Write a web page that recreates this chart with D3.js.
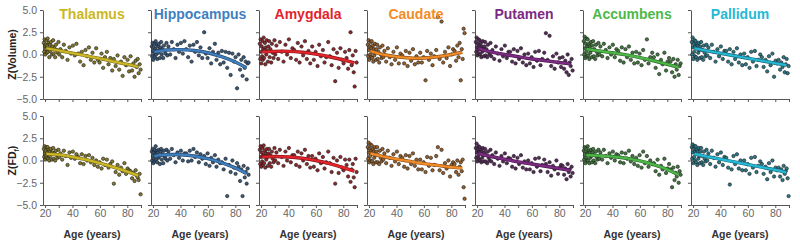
<!DOCTYPE html>
<html>
<head>
<meta charset="utf-8">
<script src="https://cdn.jsdelivr.net/npm/d3@7"></script>
<style>
  body { margin: 0; background: #fff; }
  svg { font-family: "Liberation Sans", Arial, sans-serif; }
  .axis path, .axis line { stroke: #555; }
  .axis text { fill: #666; font-size: 10.5px; }
</style>
</head>
<body>
<svg id="chart" width="800" height="241"></svg>
<script>
// regions & colours
const regions = ['Thalamus', 'Hippocampus', 'Amygdala', 'Caudate', 'Putamen', 'Accumbens', 'Pallidum']
const regionColors = ['#cbb726', '#3f7fbf', '#e3242b', '#f28c28', '#7d2a84', '#4db848', '#26b8d4']

// subject ages (same subjects in every panel)
const ages = [
  19.1, 19.4, 19.7, 20.0, 20.2, 20.5, 20.8, 21.1, 21.3, 21.6,
  21.9, 22.2, 22.5, 22.8, 23.1, 23.5, 23.8, 24.2, 24.6, 25.0,
  25.4, 25.9, 26.3, 26.8, 27.4, 27.9, 28.5, 29.1, 29.8, 30.4,
  31.2, 32.5, 33.7, 35.1, 36.4, 37.8, 39.0, 40.3, 41.7, 42.9,
  44.2, 45.6, 46.8, 48.1, 49.5, 50.7, 52.0, 53.4, 54.6, 55.9,
  57.3, 58.5, 59.8, 61.2, 62.4, 63.7, 65.1, 66.3, 67.6, 69.0,
  70.2, 71.5, 72.9, 74.1, 75.4, 76.6, 77.9, 79.1, 80.2, 81.3,
  82.4, 83.5, 84.4, 85.3, 86.1, 86.9, 87.6, 88.3, 89.0, 89.7
]

// Z(Volume) per region
const thalamusVol = [
  1.3,0.3,1.7,0.9,0.0,1.1,0.6,1.6,0.2,1.0, 1.8,0.3,0.6,1.3,-0.3,1.1,0.4,1.4,0.7,0.0,
  0.9,1.6,0.1,0.7,-0.3,1.1,0.5,0.2,1.4,0.0, 0.6,-0.3,1.1,0.4,-0.6,0.8,0.1,1.0,-0.1,1.2,
  0.1,-0.8,0.3,-1.2,0.5,-0.2,0.8,-0.6,0.2,-0.9, 0.7,-0.6,-0.9,0.1,-1.5,-0.3,0.3,-1.1,-0.4,-1.8,
  -0.5,-1.3,-0.1,-1.7,-0.8,-2.4,-0.3,-1.2,-0.6,-1.9, -0.2,-1.8,-1.0,-2.5,-0.7,-1.4,-0.5,-2.1,-1.1,-1.7]
const hippocampusVol = [
  0.9,-0.2,1.3,0.4,-0.6,0.8,0.1,1.2,-0.3,0.6, 1.5,0.0,0.4,1.1,-0.5,0.9,0.2,1.2,0.5,-0.4,
  0.8,1.4,0.0,0.6,-0.4,1.0,0.4,0.1,1.3,-0.1, 0.9,0.0,1.4,0.6,-0.4,1.1,0.3,1.3,0.1,1.5,
  0.6,-0.3,1.0,-0.8,1.1,0.3,1.4,-0.1,0.8,-0.4, 2.5,0.1,-0.4,0.7,-1.0,0.3,1.2,-0.6,0.2,-1.1,
  0.4,-0.9,0.3,-1.5,0.2,-2.3,0.1,-0.8,-0.3,-3.8, 0.0,-1.7,-0.6,-2.4,-0.3,-1.5,-0.8,-2.8,-1.0,-0.9]
const amygdalaVol = [
  1.2,-0.5,1.7,0.3,-1.0,0.9,-0.2,1.5,-0.6,0.6, 1.9,-0.4,0.5,1.3,-1.1,0.8,0.0,1.6,0.4,-0.8,
  0.9,1.5,-0.3,0.6,-0.9,1.2,0.2,-0.4,1.6,0.0, 1.0,-0.5,1.4,0.3,-0.8,1.1,0.0,1.7,-0.4,0.7,
  0.5,-0.6,1.3,-0.9,0.9,-0.1,1.5,-0.5,0.4,-1.0, 0.9,-0.6,0.3,-1.3,1.1,-0.2,0.5,-0.9,-0.3,1.4,
  -0.2,-1.2,0.6,-3.0,0.2,-1.5,0.7,-0.6,-1.0,0.3, -0.4,-1.6,0.5,2.5,-1.2,-0.1,-2.0,-3.6,0.4,-0.9]
const caudateVol = [
  1.1,-0.2,1.6,0.5,-0.6,0.9,0.0,1.4,-0.3,0.7, 1.5,-0.4,0.3,1.0,-0.8,0.6,-0.1,1.2,0.2,-0.6,
  0.6,1.1,-0.5,0.3,-0.9,0.8,0.0,-0.4,1.0,-0.3, 0.4,-0.8,0.7,-0.3,-1.1,0.3,-0.6,0.8,-1.0,0.1,
  -0.1,-1.0,0.4,-1.3,0.2,-0.7,0.6,-1.1,-0.2,-0.9, 0.2,-0.9,-0.3,-2.9,0.4,-0.6,0.1,-1.2,-0.2,0.5,
  4.2,-0.5,3.7,-0.9,0.3,-0.4,0.8,-1.3,0.0,0.6, 0.4,-0.7,1.0,-0.3,1.3,-2.9,0.6,-0.5,2.9,2.4]
const putamenVol = [
  1.4,0.3,1.9,0.8,-0.1,1.2,0.5,1.7,0.1,1.0, 1.6,0.0,0.7,1.3,-0.3,0.9,0.3,1.5,0.6,-0.2,
  0.9,1.4,-0.1,0.6,-0.3,1.1,0.3,0.0,1.3,-0.2, 0.5,-0.5,0.9,0.1,-0.7,0.6,-0.2,1.0,-0.4,0.3,
  0.3,-0.8,0.6,-1.0,0.4,-0.5,0.7,-0.9,0.0,-1.2, 0.1,-1.0,-0.3,-1.4,0.3,-0.7,0.4,-1.2,-0.5,0.2,
  2.4,-0.6,2.1,-1.3,-0.2,-1.6,0.1,-0.9,-0.4,-1.4, -0.3,-1.6,-0.7,-2.0,0.0,-2.3,-0.9,-1.3,-0.5,-1.8]
const accumbensVol = [
  1.5,0.0,2.0,0.7,-0.4,1.2,0.3,1.8,-0.2,0.9, 1.7,-0.1,0.6,1.2,-0.5,0.9,0.2,1.4,0.5,-0.3,
  1.0,1.5,-0.2,0.6,-0.5,1.1,0.3,-0.1,1.3,0.0, 0.9,-0.2,1.2,0.5,-0.4,0.8,0.0,1.1,-0.3,0.6,
  0.4,-0.7,0.8,-0.9,0.6,-0.3,0.9,-0.6,0.2,-1.0, 0.3,-0.9,0.1,-1.2,0.5,-0.6,1.7,-1.0,-0.3,0.2,
  -0.3,-1.5,0.0,-2.2,-0.6,-1.1,0.2,-1.8,-0.8,-0.4, -0.8,-2.0,-0.5,-2.5,-1.1,-1.7,-0.6,-2.3,-1.3,-1.0]
const pallidumVol = [
  1.4,0.0,1.9,0.8,-0.5,1.2,0.3,1.6,-0.2,0.9, 1.5,-0.3,0.7,1.2,-0.6,1.0,0.2,1.3,0.5,-0.4,
  0.9,1.4,-0.3,0.5,-0.6,1.0,0.2,-0.2,1.1,-0.1, 0.8,-0.4,1.1,0.3,-0.8,0.6,-0.2,0.9,-0.5,0.4,
  0.4,-0.8,0.6,-1.1,0.3,-0.5,0.7,-0.9,0.0,-1.2, 0.1,-1.1,-0.3,-1.5,0.3,-0.8,0.4,-1.3,-0.6,0.0,
  -0.3,-1.4,-0.6,-1.9,-0.2,-1.2,0.1,-2.5,-0.7,-1.0, -0.6,-1.7,-0.9,-1.4,-0.3,-2.0,-1.1,-0.5,-2.1,-1.3]

// Z(FD_f) per region
const thalamusFd = [
  1.3,0.4,1.6,0.8,0.1,1.1,0.5,1.5,0.3,0.9, 1.5,0.2,0.7,1.2,0.0,1.0,0.5,1.3,0.8,0.1,
  0.9,1.4,0.2,0.8,0.0,1.1,0.6,0.3,1.2,0.4, 0.8,0.1,1.1,0.5,-0.5,0.9,0.3,1.0,0.2,0.7,
  0.4,-0.3,0.7,-0.4,0.5,0.0,0.6,-0.2,0.3,-0.5, 0.0,-0.7,-0.2,-0.9,0.2,-0.5,0.1,-0.8,-0.4,-0.1,
  -2.6,-1.3,-0.5,-1.6,-0.8,-1.2,-0.3,-1.5,-0.9,-1.1, -1.2,-2.0,-1.4,-2.3,-1.1,-1.7,-1.9,-2.2,-1.5,-3.8]
const hippocampusFd = [
  1.0,0.0,1.3,0.5,-0.3,0.9,0.2,1.2,-0.1,0.7, 1.6,0.1,0.6,1.1,-0.2,0.9,0.3,1.2,0.5,-0.4,
  1.0,1.3,0.1,0.7,-0.3,1.1,0.4,0.2,1.2,0.0, 1.0,0.2,1.3,0.6,-0.2,0.9,0.3,1.1,0.0,0.8,
  0.8,-0.1,1.1,0.0,1.3,0.4,0.9,-0.2,0.7,0.2, 0.5,-0.4,0.8,-0.6,0.3,-0.2,0.6,-0.7,0.1,-0.3,
  -0.2,-1.0,0.2,-4.0,-0.5,-1.3,0.0,-0.8,-1.5,-0.3, -0.7,-2.3,-1.0,-4.0,-0.6,-1.9,-1.3,-2.6,-0.9,-1.6]
const amygdalaFd = [
  1.2,-0.4,1.6,0.4,-0.7,0.9,-0.1,1.4,-0.5,0.6, 1.7,-0.3,0.5,1.1,-0.8,0.8,0.1,1.3,0.4,-0.6,
  0.8,1.3,-0.3,0.6,-0.7,1.0,0.2,-0.2,1.4,0.0, 0.9,-0.3,1.2,0.4,-0.6,1.0,0.0,1.4,-0.2,0.6,
  0.6,-0.5,1.0,-0.7,0.8,0.0,1.2,-0.4,0.5,-0.8, 0.5,-0.7,0.2,-1.1,0.8,-0.3,0.4,-0.9,-0.2,1.0,
  -0.3,-1.3,0.3,-2.6,0.0,-1.4,0.4,-0.8,-1.1,0.1, -0.5,-1.8,0.1,-2.4,-1.0,-0.4,-1.9,-3.0,0.2,-1.3]
const caudateFd = [
  1.5,0.2,2.0,0.9,-0.2,1.3,0.5,1.8,0.0,1.1, 1.7,-0.1,0.8,1.3,-0.4,1.0,0.3,1.5,0.6,-0.2,
  1.0,1.5,-0.2,0.6,-0.4,1.1,0.3,-0.1,1.3,0.1, 0.8,-0.3,1.1,0.3,-0.6,0.7,-0.1,1.0,-0.4,0.5,
  0.3,-0.7,0.6,-0.9,0.5,-0.4,0.8,-0.6,0.1,-1.0, 0.1,-1.0,-0.2,-1.3,0.4,-0.6,0.3,-1.1,-0.5,0.5,
  1.5,-1.1,1.2,-1.4,-0.3,-0.9,0.0,-1.8,-0.5,-0.2, -0.4,-1.3,0.0,-1.6,-0.7,-0.2,-1.2,0.1,-3.0,-4.3]
const putamenFd = [
  1.4,0.3,1.9,0.9,-0.1,1.2,0.5,1.6,0.2,1.0, 1.5,0.0,0.8,1.2,-0.2,1.0,0.3,1.4,0.6,-0.1,
  0.9,1.3,-0.1,0.6,-0.3,1.0,0.3,0.0,1.2,-0.1, 0.6,-0.4,0.9,0.2,-0.6,0.5,-0.1,0.8,-0.3,0.3,
  0.2,-0.7,0.5,-0.9,0.3,-0.4,0.6,-0.8,-0.1,-1.0, 0.0,-1.0,-0.3,-1.3,0.2,-0.7,0.3,-1.2,-0.5,0.1,
  -0.4,-1.3,-0.2,-1.7,-0.6,-1.0,0.0,-1.5,-0.8,-0.5, -0.6,-1.6,-0.9,-2.1,-0.4,-1.3,-1.0,-1.8,-0.7,-1.4]
const accumbensFd = [
  1.1,0.1,1.5,0.6,-0.3,1.0,0.3,1.4,0.0,0.8, 1.6,0.0,0.7,1.1,-0.3,0.9,0.3,1.2,0.5,-0.2,
  0.9,1.3,0.0,0.6,-0.3,1.0,0.4,0.1,1.2,0.2, 0.9,0.1,1.2,0.5,-0.3,0.8,0.3,1.0,0.0,0.7,
  0.6,-0.2,0.9,-0.3,0.8,0.2,1.1,-0.1,0.5,-0.4, 0.3,-0.6,0.6,-0.8,1.0,-0.3,0.5,-0.7,0.0,-0.4,
  -0.3,-1.2,0.1,-1.6,-0.6,-1.0,0.2,-1.4,-0.9,-0.4, -1.0,-3.0,-0.8,-2.2,-1.4,-1.8,-0.7,-2.5,-1.2,-1.6]
const pallidumFd = [
  1.5,0.2,1.8,0.9,-0.3,1.3,0.4,1.6,0.0,1.0, 1.6,-0.2,0.8,1.2,-0.5,1.0,0.2,1.4,0.5,-0.3,
  1.0,1.4,-0.2,0.5,-0.5,1.0,0.2,-0.1,1.2,0.0, 0.8,-0.4,1.1,0.3,-0.7,0.7,-0.2,0.9,-0.5,0.4,
  0.3,-0.8,-2.7,-1.0,0.5,-0.4,0.7,-0.9,0.0,-1.1, 0.0,-1.1,-0.4,-1.5,0.3,-0.8,0.4,-1.3,-0.6,-0.1,
  -0.4,-1.5,-0.7,-2.1,-0.3,-1.3,0.0,-1.8,-0.8,-1.1, -0.8,-1.8,-1.0,-2.2,-0.6,-1.5,-1.2,-0.9,-2.0,-4.0]

// fitted age curves, sampled at these ages
const fitAges = [21, 30, 40, 50, 60, 70, 80, 88]
const thalamusVolFit = [0.7, 0.45, 0.15, -0.15, -0.45, -0.8, -1.1, -1.4]
const hippocampusVolFit = [0.3, 0.5, 0.55, 0.45, 0.2, -0.25, -0.85, -1.5]
const amygdalaVolFit = [0.3, 0.35, 0.35, 0.25, 0.05, -0.25, -0.6, -0.95]
const caudateVolFit = [0.4, 0.0, -0.25, -0.4, -0.4, -0.25, 0.0, 0.25]
const putamenVolFit = [0.7, 0.3, 0.0, -0.25, -0.5, -0.7, -0.9, -1.05]
const accumbensVolFit = [0.6, 0.4, 0.2, -0.05, -0.35, -0.7, -1.1, -1.45]
const pallidumVolFit = [0.7, 0.42, 0.14, -0.14, -0.42, -0.7, -0.98, -1.2]
const thalamusFdFit = [0.75, 0.65, 0.4, 0.1, -0.3, -0.75, -1.25, -1.7]
const hippocampusFdFit = [0.5, 0.65, 0.65, 0.5, 0.2, -0.25, -0.85, -1.45]
const amygdalaFdFit = [0.4, 0.45, 0.4, 0.25, 0.0, -0.35, -0.8, -1.2]
const caudateFdFit = [0.8, 0.45, 0.15, -0.1, -0.35, -0.55, -0.75, -0.85]
const putamenFdFit = [0.8, 0.45, 0.15, -0.15, -0.4, -0.65, -0.9, -1.1]
const accumbensFdFit = [0.6, 0.55, 0.45, 0.25, -0.05, -0.45, -1.0, -1.6]
const pallidumFdFit = [0.75, 0.45, 0.15, -0.15, -0.45, -0.75, -1.05, -1.35]

// tick values
const yTicks = [-5, -2.5, 0, 2.5, 5]
const xTicks = [20, 30, 40, 50, 60, 70, 80, 90]
const xLabelled = [20, 40, 60, 80]

const rows = [
  { label: 'Z(Volume)', points: [thalamusVol, hippocampusVol, amygdalaVol, caudateVol, putamenVol, accumbensVol, pallidumVol],
    fits: [thalamusVolFit, hippocampusVolFit, amygdalaVolFit, caudateVolFit, putamenVolFit, accumbensVolFit, pallidumVolFit] },
  { label: 'Z(FD', points: [thalamusFd, hippocampusFd, amygdalaFd, caudateFd, putamenFd, accumbensFd, pallidumFd],
    fits: [thalamusFdFit, hippocampusFdFit, amygdalaFdFit, caudateFdFit, putamenFdFit, accumbensFdFit, pallidumFdFit] }
]

// layout
const panelLeft = 43, panelStep = 108, panelWidth = 98
const rowTops = [10, 116], rowHeight = 89

const svg = d3.select('#chart')
const xScale = d3.scaleLinear([18.5, 90], [0, panelWidth])
const yScale = d3.scaleLinear([-5, 5], [rowHeight, 0])

const fitLine = d3.line()
  .x(d => xScale(d[0])).y(d => yScale(d[1]))
  .curve(d3.curveNatural)

rows.forEach((row, r) => {
  regions.forEach((region, c) => {
    const color = regionColors[c]
    const g = svg.append('g')
      .attr('transform', `translate(${panelLeft + c * panelStep},${rowTops[r]})`)

    // axes
    const yAxis = d3.axisLeft(yScale).tickValues(yTicks).tickSize(3).tickSizeOuter(0)
      .tickFormat(c === 0 ? d3.format('.1f') : '')
    g.append('g').attr('class', 'axis').call(yAxis)

    const xAxis = d3.axisBottom(xScale).tickValues(xTicks).tickSize(3).tickSizeOuter(0)
      .tickPadding(2)
      .tickFormat(d => (r === 1 && xLabelled.includes(d)) ? d : '')
    g.append('g').attr('class', 'axis')
      .attr('transform', `translate(0,${rowHeight})`).call(xAxis)

    // points
    const pts = ages.map((a, i) => [a, row.points[c][i]])
    const fill = d3.interpolateRgb(color, '#2b2b2b')(0.45)
    g.append('g').selectAll('circle').data(pts).join('circle')
      .attr('cx', d => xScale(d[0])).attr('cy', d => yScale(d[1]))
      .attr('r', 1.7)
      .attr('fill', fill).attr('stroke', '#1b1b1b').attr('stroke-width', 0.6)

    // fit
    const fitPts = fitAges.map((a, i) => [a, row.fits[c][i]])
    g.append('path').datum(fitPts).attr('d', fitLine)
      .attr('fill', 'none').attr('stroke', d3.color(color).darker(1.5)).attr('stroke-width', 3.4)
    g.append('path').datum(fitPts).attr('d', fitLine)
      .attr('fill', 'none').attr('stroke', color).attr('stroke-width', 2.2)

    // title
    if (r === 0) {
      g.append('text').attr('x', panelWidth / 2).attr('y', 9)
        .attr('text-anchor', 'middle')
        .style('font-size', '14px').style('font-weight', 'bold')
        .style('fill', color).text(region)
    } else {
      g.append('text').attr('x', panelWidth / 2).attr('y', 122)
        .attr('text-anchor', 'middle')
        .style('font-size', '10.5px').style('font-weight', 'bold')
        .style('fill', '#333').text('Age (years)')
    }
  })

  // row label
  const ly = rowTops[r] + rowHeight / 2
  const t = svg.append('text')
    .attr('transform', `translate(16,${ly}) rotate(-90)`)
    .attr('text-anchor', 'middle')
    .style('font-size', '10.5px').style('font-weight', 'bold').style('fill', '#222')
  t.append('tspan').text(row.label)
  if (r === 1) {
    t.append('tspan').attr('dy', 2.5).style('font-size', '7px').text('f')
    t.append('tspan').attr('dy', -2.5).text(')')
  }
})
</script>
</body>
</html>
